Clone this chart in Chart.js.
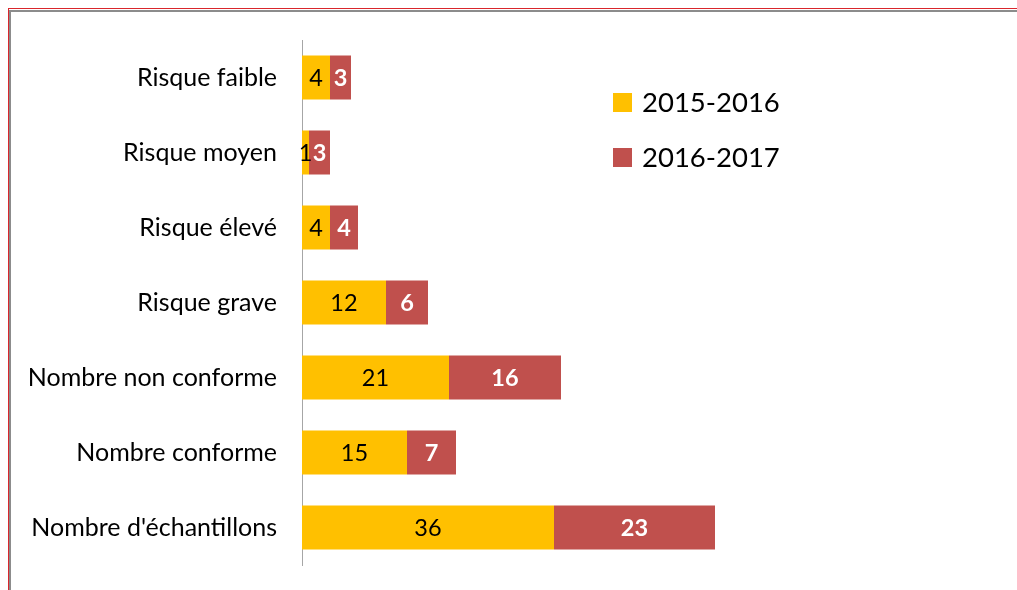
<!DOCTYPE html>
<html>
<head>
<meta charset="utf-8">
<script src="https://cdn.jsdelivr.net/npm/chart.js@4/dist/chart.umd.min.js"></script>
<style>
  html, body { margin: 0; padding: 0; background: #fff; }
  #wrap { position: relative; width: 1017px; height: 590px; overflow: hidden; }
  #c { position: absolute; left: 0; top: 0; }
  .frameR { position: absolute; background: #d9262c; }
  .frameG { position: absolute; background: #8c8c8c; }
  #legend { position: absolute; left: 613px; top: 83px; font-family: Lato, sans-serif; font-size: 27.5px; color: #000; }
  .li { position: relative; height: 55px; }
  .sw { position: absolute; left: 0; top: 10px; width: 19px; height: 19px; }
  .lt { position: absolute; left: 29px; top: 0; line-height: 38px; white-space: nowrap; }
</style>
</head>
<body>
<div id="wrap">
  <canvas id="c" width="1017" height="590"></canvas>
  <div class="frameR" style="left:8px;top:8px;width:1009px;height:1px;"></div>
  <div class="frameR" style="left:8px;top:8px;width:1px;height:582px;"></div>
  <div class="frameG" style="left:9px;top:10px;width:1008px;height:2px;"></div>
  <div class="frameG" style="left:9px;top:10px;width:2px;height:580px;"></div>
  <div id="legend"></div>
</div>
<script>
const categories = ["Risque faible", "Risque moyen", "Risque élevé", "Risque grave", "Nombre non conforme", "Nombre conforme", "Nombre d'échantillons"];
const seriesNames = ["2015-2016", "2016-2017"];
const values2015_2016 = [4, 1, 4, 12, 21, 15, 36];
const values2016_2017 = [3, 3, 4, 6, 16, 7, 23];
const seriesColors = ["#FFC000", "#C0504D"];
const labelColors = ["#000000", "#FFFFFF"];
const labelWeights = ["normal", "bold"];

const legendEl = document.getElementById('legend');
seriesNames.forEach((n, i) => {
  const li = document.createElement('div');
  li.className = 'li';
  li.innerHTML = '<span class="sw" style="background:' + seriesColors[i] + '"></span><span class="lt">' + n + '</span>';
  legendEl.appendChild(li);
});

const barLabels = {
  id: 'barLabels',
  afterDatasetsDraw(chart) {
    const ctx = chart.ctx;
    chart.data.datasets.forEach((ds, di) => {
      const meta = chart.getDatasetMeta(di);
      meta.data.forEach((bar, i) => {
        const v = ds.data[i];
        const cx = (bar.x + bar.base) / 2;
        ctx.save();
        ctx.font = labelWeights[di] + ' 23.5px Lato';
        ctx.fillStyle = labelColors[di];
        ctx.textAlign = 'center';
        ctx.textBaseline = 'middle';
        ctx.fillText(String(v), cx, bar.y + 1);
        ctx.restore();
      });
    });
  }
};

new Chart(document.getElementById('c'), {
  type: 'bar',
  data: {
    labels: categories,
    datasets: [
      { label: seriesNames[0], data: values2015_2016, backgroundColor: seriesColors[0], categoryPercentage: 1, barPercentage: 0.587 },
      { label: seriesNames[1], data: values2016_2017, backgroundColor: seriesColors[1], categoryPercentage: 1, barPercentage: 0.587 }
    ]
  },
  options: {
    indexAxis: 'y',
    responsive: false,
    animation: false,
    devicePixelRatio: 1,
    layout: { padding: { left: 0, right: 15, top: 40, bottom: 25 } },
    plugins: { legend: { display: false }, tooltip: { enabled: false } },
    scales: {
      x: { stacked: true, display: false, min: 0, max: 100 },
      y: {
        stacked: true,
        grid: { display: false, drawTicks: false },
        border: { display: true, color: '#a6a6a6', width: 1 },
        ticks: { color: '#000', font: { family: 'Lato', size: 25 }, padding: 25 },
        afterFit(s) { s.width = 302; s.paddingTop = 0; s.paddingBottom = 0; }
      }
    }
  },
  plugins: [barLabels]
});
</script>
</body>
</html>
